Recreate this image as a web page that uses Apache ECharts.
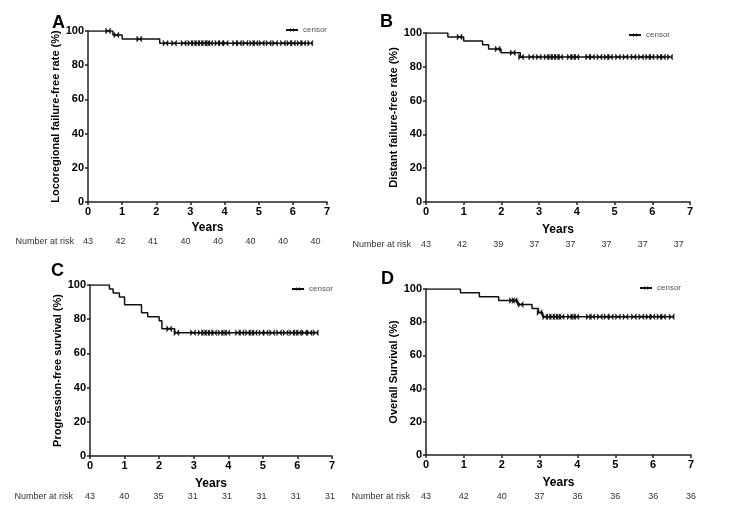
<!DOCTYPE html>
<html><head><meta charset="utf-8">
<script src="https://cdn.jsdelivr.net/npm/echarts@6/dist/echarts.min.js"></script>
<style>html,body{margin:0;padding:0;background:#fff}#c{width:736px;height:518px}</style>
</head><body><div id="c"></div>
<script>
// ---------- data ----------
const yearTicks = [0, 1, 2, 3, 4, 5, 6, 7];
const yTicks = [0, 20, 40, 60, 80, 100];
const panelLetters = ['A', 'B', 'C', 'D'];
const yTitles = ['Locoregional failure-free rate (%)', 'Distant failure-free rate (%)',
                 'Progression-free survival (%)', 'Overall Survival (%)'];
const xTitle = 'Years';
const riskTitle = 'Number at risk';
const legendName = 'censor';

// events: [time (years), survival after event (%)]
const eventsA = [[0.73, 97.7], [1.0, 95.3], [2.1, 92.9]];
const censorA = [0.59, 0.83, 1.5, 2.27, 2.52, 2.8, 3.0, 3.1, 3.2, 3.3, 3.4, 3.5, 3.58, 3.79, 3.89, 4.03,
                 4.31, 4.42, 4.61, 4.81, 4.9, 5.09, 5.29, 5.48, 5.71, 5.9, 6.0, 6.2, 6.3, 6.51];
const riskA = [43, 42, 41, 40, 40, 40, 40, 40];

const eventsB = [[0.58, 97.7], [1.0, 95.3], [1.5, 93.0], [1.66, 90.6], [1.99, 88.3], [2.5, 85.8]];
const censorB = [0.89, 1.9, 2.3, 2.52, 2.79, 2.99, 3.2, 3.29, 3.38, 3.47, 3.56, 3.81, 3.9, 3.99, 4.3, 4.4,
                 4.6, 4.79, 4.88, 5.09, 5.29, 5.5, 5.7, 5.89, 5.98, 6.19, 6.28, 6.47];
const riskB = [43, 42, 39, 37, 37, 37, 37, 37];

const eventsC = [[0.56, 97.7], [0.67, 95.3], [0.85, 93.0], [1.0, 88.4], [1.49, 83.7], [1.67, 81.4],
                 [2.0, 79.1], [2.08, 74.4], [2.45, 72.1]];
const censorC = [2.29, 2.5, 2.98, 3.2, 3.3, 3.39, 3.49, 3.59, 3.78, 3.88, 3.97, 4.28, 4.38, 4.57, 4.67,
                 4.76, 4.96, 5.08, 5.27, 5.47, 5.66, 5.85, 5.95, 6.04, 6.2, 6.35, 6.53];
const riskC = [43, 40, 35, 31, 31, 31, 31, 31];

const eventsD = [[0.91, 97.7], [1.41, 95.3], [1.92, 93.0], [2.42, 90.6], [2.8, 88.2], [2.97, 85.8], [3.08, 83.3]];
const censorD = [2.27, 2.34, 2.5, 3.0, 3.15, 3.24, 3.33, 3.42, 3.5, 3.58, 3.8, 3.89, 3.97, 4.3, 4.39, 4.59,
                 4.77, 4.88, 5.07, 5.27, 5.49, 5.69, 5.88, 5.98, 6.17, 6.26, 6.49];
const riskD = [43, 42, 40, 37, 36, 36, 36, 36];

const allEvents = [eventsA, eventsB, eventsC, eventsD];
const allCensor = [censorA, censorB, censorC, censorD];
const allRisk = [riskA, riskB, riskC, riskD];

// ---------- layout ----------
const grids = [
  {left: 88, right: 409, top: 31, bottom: 316},
  {left: 426, right: 46, top: 33, bottom: 316},
  {left: 90, right: 404, top: 285, bottom: 62},
  {left: 426, right: 45, top: 289, bottom: 63}
];
const riskMax = [7.35, 7.31, 7.06, 7.0];
const riskOffset = [40, 43, 41, 42];
const riskNameGap = [14, 15, 17, 16];
const yNameGap = [21, 25, 24, 24];
const xNameGap = [20, 22, 22, 22];
const letterPos = [[52, 14], [380, 13], [51, 262], [381, 270]];
const legendPos = [[285, 26], [628, 31], [291, 285], [639, 284]];

function kmData(events, censors) {
  const pts = events.map(e => ({t: e[0], s: e[1], c: false}))
    .concat(censors.map(t => ({t: t, c: true})))
    .sort((a, b) => a.t - b.t || (a.c ? 1 : -1));
  let cur = 100;
  const out = [{value: [0, 100], symbol: 'none'}];
  pts.forEach(p => {
    if (p.c) out.push({value: [p.t, cur]});
    else { cur = p.s; out.push({value: [p.t, cur], symbol: 'none'}); }
  });
  return out;
}

const bowtie = 'path://M0,0L10,10L10,0L0,10Z';
const ink = '#111';
const font = 'Liberation Sans, Arial, sans-serif';

const option = {
  animation: false,
  backgroundColor: '#fff',
  textStyle: {fontFamily: font},
  grid: grids.map(g => Object.assign({containLabel: false}, g)),
  xAxis: [],
  yAxis: [],
  series: [],
  legend: [],
  graphic: []
};

for (let i = 0; i < 4; i++) {
  option.xAxis.push({
    type: 'value', gridIndex: i, min: yearTicks[0], max: yearTicks[yearTicks.length - 1], interval: 1,
    name: xTitle, nameLocation: 'middle', nameGap: xNameGap[i],
    nameTextStyle: {fontSize: 12, fontWeight: 'bold', color: '#000', fontFamily: font},
    axisLine: {lineStyle: {color: '#222', width: 1.5}},
    axisTick: {length: 3, lineStyle: {color: '#222', width: 1.5}},
    axisLabel: {fontSize: 11, fontWeight: 'bold', color: '#000', margin: 4, fontFamily: font},
    splitLine: {show: false}
  });
  const risk = allRisk[i];
  option.xAxis.push({
    type: 'value', gridIndex: i, position: 'bottom', offset: riskOffset[i],
    min: 0, max: riskMax[i], interval: 1,
    name: riskTitle, nameLocation: 'start', nameGap: riskNameGap[i],
    nameTextStyle: {fontSize: 9, color: '#333', fontFamily: font, verticalAlign: 'middle'},
    axisLine: {show: false}, axisTick: {show: false}, splitLine: {show: false},
    axisLabel: {
      fontSize: 9, color: '#333', margin: 0, verticalAlign: 'middle', fontFamily: font,
      showMaxLabel: true,
      formatter: v => (Number.isInteger(v) && risk[v] !== undefined) ? String(risk[v]) : ''
    }
  });
  option.yAxis.push({
    type: 'value', gridIndex: i, min: yTicks[0], max: yTicks[yTicks.length - 1], interval: 20,
    name: yTitles[i], nameLocation: 'middle', nameGap: yNameGap[i],
    nameTextStyle: {fontSize: 11, fontWeight: 'bold', color: '#000', fontFamily: font},
    axisLine: {show: true, lineStyle: {color: '#222', width: 1.5}},
    axisTick: {show: true, length: 3, lineStyle: {color: '#222', width: 1.5}},
    axisLabel: {fontSize: 11, fontWeight: 'bold', color: '#000', margin: 4, fontFamily: font},
    splitLine: {show: false}
  });
  option.series.push({
    type: 'line', name: legendName, xAxisIndex: i * 2, yAxisIndex: i,
    step: 'end', symbol: bowtie, symbolSize: [5, 6], showSymbol: true,
    lineStyle: {color: ink, width: 1.5}, itemStyle: {color: ink, borderColor: ink, borderWidth: 0.4},
    emphasis: {disabled: true},
    data: kmData(allEvents[i], allCensor[i])
  });
  option.legend.push({
    left: legendPos[i][0], top: legendPos[i][1], padding: 0,
    data: [legendName], itemWidth: 12, itemHeight: 5,
    itemStyle: {borderWidth: 0},
    textStyle: {fontSize: 8, color: '#555', fontFamily: font}
  });
  option.graphic.push({
    type: 'text', left: letterPos[i][0], top: letterPos[i][1],
    style: {text: panelLetters[i], font: 'bold 18px ' + font, fill: '#000'}
  });
}

const chart = echarts.init(document.getElementById('c'), null, {renderer: 'canvas'});
chart.setOption(option);
</script>
</body></html>
